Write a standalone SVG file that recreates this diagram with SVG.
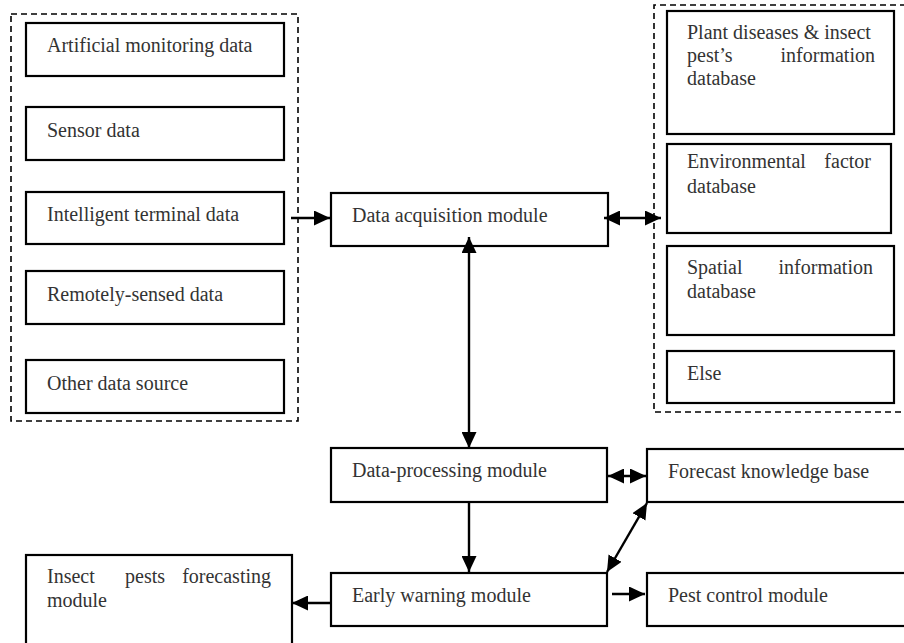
<svg xmlns="http://www.w3.org/2000/svg" width="904" height="643" viewBox="0 0 904 643">
<style>
  .box { fill: #fff; stroke: #000; stroke-width: 2.2; }
  .dash { fill: none; stroke: #000; stroke-width: 1.6; stroke-dasharray: 6 4; }
  .lbl { font-family: "Liberation Serif", "Times New Roman", serif; font-size: 20px; fill: #333; }
  .end { text-anchor: end; }
  .con { fill: none; stroke: #000; stroke-width: 2.4; }
</style>
<defs>
  <marker id="ah" markerUnits="userSpaceOnUse" markerWidth="16" markerHeight="15" refX="16" refY="7.5" orient="auto-start-reverse" viewBox="0 0 16 15">
    <path d="M0,0 L16,7.5 L0,15 z" fill="#000"/>
  </marker>
</defs>

<g id="source-group">
  <rect class="dash" x="11" y="14" width="287" height="407"/>
</g>
<g id="database-group">
  <path class="dash" d="M906,5 H654 V412 H906"/>
</g>

<g id="artificial">
  <rect class="box" x="26" y="23" width="258" height="53"/>
  <text class="lbl" x="47" y="52">Artificial monitoring data</text>
</g>
<g id="sensor">
  <rect class="box" x="26" y="107" width="258" height="53"/>
  <text class="lbl" x="47" y="137">Sensor data</text>
</g>
<g id="terminal">
  <rect class="box" x="26" y="192" width="258" height="52"/>
  <text class="lbl" x="47" y="221">Intelligent terminal data</text>
</g>
<g id="remote">
  <rect class="box" x="26" y="271" width="258" height="53"/>
  <text class="lbl" x="47" y="301">Remotely-sensed data</text>
</g>
<g id="other">
  <rect class="box" x="26" y="360" width="258" height="53"/>
  <text class="lbl" x="47" y="390">Other data source</text>
</g>

<g id="plant-db">
  <rect class="box" x="667" y="11" width="227" height="123"/>
  <text class="lbl" x="687" y="39">Plant diseases &amp; insect</text>
  <text class="lbl" x="687" y="62">pest’s</text>
  <text class="lbl end" x="875" y="62">information</text>
  <text class="lbl" x="687" y="85">database</text>
</g>
<g id="env-db">
  <rect class="box" x="667" y="144" width="224" height="89"/>
  <text class="lbl" x="687" y="168">Environmental</text>
  <text class="lbl end" x="871" y="168">factor</text>
  <text class="lbl" x="687" y="193">database</text>
</g>
<g id="spatial-db">
  <rect class="box" x="667" y="246" width="227" height="89"/>
  <text class="lbl" x="687" y="274">Spatial</text>
  <text class="lbl end" x="873" y="274">information</text>
  <text class="lbl" x="687" y="298">database</text>
</g>
<g id="else-db">
  <rect class="box" x="667" y="351" width="227" height="52"/>
  <text class="lbl" x="687" y="380">Else</text>
</g>

<g id="acquisition">
  <rect class="box" x="331" y="193" width="277" height="53"/>
  <text class="lbl" x="352" y="222">Data acquisition module</text>
</g>
<g id="processing">
  <rect class="box" x="331" y="448" width="276" height="54"/>
  <text class="lbl" x="352" y="477">Data-processing module</text>
</g>
<g id="forecast-kb">
  <rect class="box" x="647" y="449" width="270" height="53"/>
  <text class="lbl" x="668" y="478">Forecast knowledge base</text>
</g>
<g id="early-warning">
  <rect class="box" x="331" y="573" width="276" height="53"/>
  <text class="lbl" x="352" y="602">Early warning module</text>
</g>
<g id="pest-control">
  <rect class="box" x="647" y="573" width="270" height="53"/>
  <text class="lbl" x="668" y="602">Pest control module</text>
</g>
<g id="forecasting">
  <rect class="box" x="26" y="555" width="266" height="100"/>
  <text class="lbl" x="47" y="583">Insect</text>
  <text class="lbl" x="125" y="583">pests</text>
  <text class="lbl end" x="271" y="583">forecasting</text>
  <text class="lbl" x="47" y="607">module</text>
</g>

<g id="connectors">
  <line class="con" x1="291" y1="218" x2="330" y2="218" marker-end="url(#ah)"/>
  <line class="con" x1="604" y1="218" x2="661" y2="218" marker-start="url(#ah)" marker-end="url(#ah)"/>
  <line class="con" x1="469" y1="237" x2="469" y2="448" marker-start="url(#ah)" marker-end="url(#ah)"/>
  <line class="con" x1="469" y1="502" x2="469" y2="572" marker-end="url(#ah)"/>
  <line class="con" x1="608" y1="476" x2="646" y2="476" marker-start="url(#ah)" marker-end="url(#ah)"/>
  <line class="con" x1="607" y1="572" x2="647" y2="503" marker-start="url(#ah)" marker-end="url(#ah)"/>
  <line class="con" x1="612" y1="594" x2="645" y2="594" marker-end="url(#ah)"/>
  <line class="con" x1="331" y1="603" x2="292" y2="603" marker-end="url(#ah)"/>
</g>
</svg>
